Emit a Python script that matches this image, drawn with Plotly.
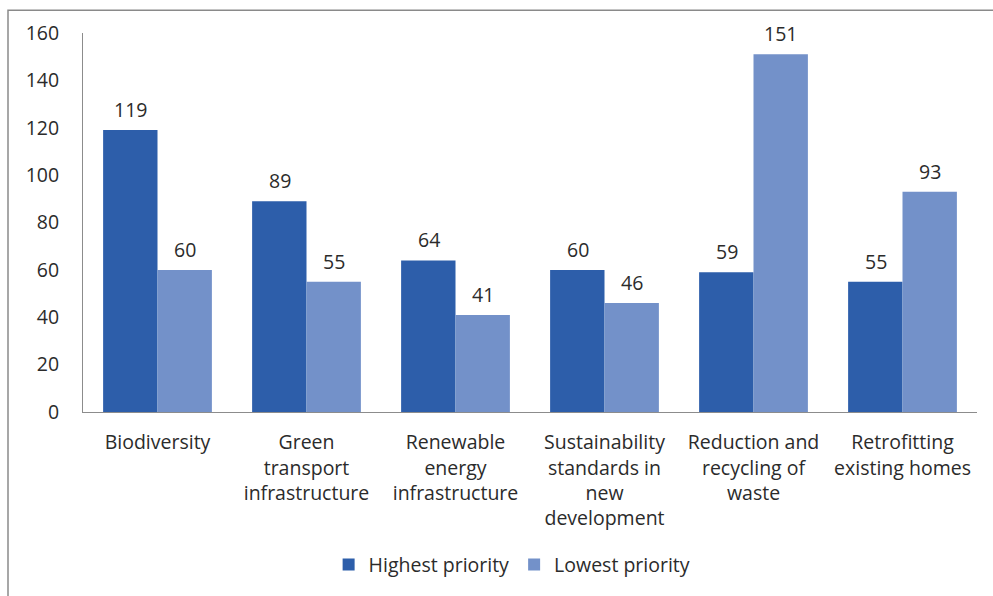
import plotly.graph_objects as go

categories = [
    "Biodiversity",
    "Green<br>transport<br>infrastructure",
    "Renewable<br>energy<br>infrastructure",
    "Sustainability<br>standards in<br>new<br>development",
    "Reduction and<br>recycling of<br>waste",
    "Retrofitting<br>existing homes",
]
highest_priority = [119, 89, 64, 60, 59, 55]
lowest_priority = [60, 55, 41, 46, 151, 93]
y_ticks = [0, 20, 40, 60, 80, 100, 120, 140, 160]

HIGH_COLOR = "#2D5EAA"
LOW_COLOR = "#7391C9"
TEXT_COLOR = "#2B2B2B"
FONT = "Open Sans"
FS = 19.5

fig = go.Figure()
fig.add_trace(go.Bar(name="Highest priority", x=categories, y=highest_priority,
                     marker=dict(color=HIGH_COLOR, line=dict(width=0))))
fig.add_trace(go.Bar(name="Lowest priority", x=categories, y=lowest_priority,
                     marker=dict(color=LOW_COLOR, line=dict(width=0))))

# value labels above each bar
annotations = []
for series, shift in ((highest_priority, -27), (lowest_priority, 27)):
    for cat, val in zip(categories, series):
        annotations.append(dict(x=cat, y=val, xref="x", yref="y", text=str(val),
                                showarrow=False, xshift=shift, yshift=5,
                                yanchor="bottom",
                                font=dict(family=FONT, size=FS, color=TEXT_COLOR)))

# outer chart frame
L, R, T, B = 83, 977, 33, 415
W, H = R - L, B - T
def px_x(p):
    return (p - L) / W
def px_y(p):
    return (B - p) / H

fig.update_layout(
    width=993, height=596,
    margin=dict(l=L, r=993 - R, t=T, b=596 - B),
    paper_bgcolor="white", plot_bgcolor="white",
    barmode="group", bargap=0.27, bargroupgap=0,
    font=dict(family=FONT, size=FS, color=TEXT_COLOR),
    annotations=annotations,
    shapes=[dict(type="rect", xref="paper", yref="paper",
                 x0=px_x(8), x1=px_x(1010), y0=px_y(610), y1=px_y(10),
                 line=dict(color="#8A8A8A", width=1.5), layer="below")],
    legend=dict(orientation="h", x=0.48, xanchor="center", y=px_y(569), yanchor="middle",
                font=dict(family=FONT, size=FS, color=TEXT_COLOR),
                itemwidth=30, traceorder="normal"),
    xaxis=dict(showline=True, linecolor="#8C8C8C", linewidth=1, ticks="",
               showgrid=False, tickangle=0, ticklabelstandoff=13,
               tickfont=dict(family=FONT, size=FS, color=TEXT_COLOR)),
    yaxis=dict(range=[0, 160], tickvals=y_ticks, showline=True, linecolor="#8C8C8C",
               linewidth=1, showgrid=False, zeroline=False, ticks="",
               ticklabelstandoff=19,
               tickfont=dict(family=FONT, size=FS, color=TEXT_COLOR)),
)

fig.write_html("out.html")
